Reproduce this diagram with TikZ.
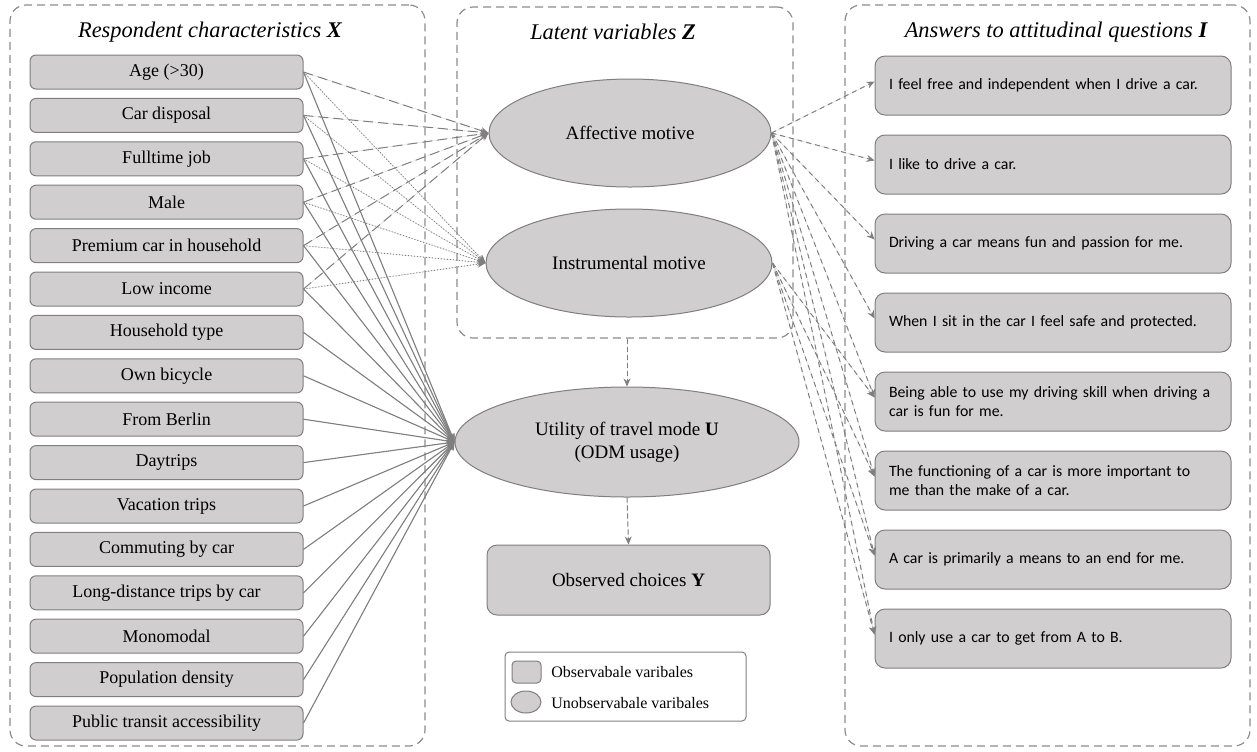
\documentclass[tikz,border=0pt]{standalone}
\usepackage{fontspec}
\setmainfont{Liberation Serif}
\newfontfamily\calib{Carlito}
\usetikzlibrary{shapes.geometric,arrows.meta}
\definecolor{boxfill}{HTML}{D0CECE}
\definecolor{edgegray}{HTML}{7F7F7F}
\definecolor{bordergray}{HTML}{8C8C8C}
\begin{document}
\begin{tikzpicture}[x=0.5pt,y=-0.5pt,
 panel/.style={draw=bordergray, line width=0.6pt, dash pattern=on 4pt off 2.5pt, rounded corners=8pt, inner sep=0pt},
 lbox/.style={draw=edgegray, fill=boxfill, rounded corners=3pt, minimum width=136.5pt, minimum height=17pt, inner sep=0pt, line width=0.5pt, font=\fontsize{9}{11}\selectfont},
 rbox/.style={draw=edgegray, fill=boxfill, rounded corners=5pt, text width=164pt, inner xsep=7pt, inner ysep=0pt, minimum height=29.5pt, align=left, line width=0.5pt, font=\calib\fontsize{7.9}{9.6}\selectfont},
 lat/.style={draw=edgegray, fill=boxfill, ellipse, inner sep=0pt, line width=0.5pt, align=center, font=\fontsize{9.5}{11.5}\selectfont},
 titletext/.style={font=\fontsize{11.2}{13}\selectfont\itshape},
 tip/.style={-{Stealth[length=4pt,width=3.5pt]}},
 affedge/.style={tip, draw=edgegray, fill=edgegray, line width=0.5pt, dash pattern=on 5pt off 2.5pt},
 insedge/.style={tip, draw=edgegray, fill=edgegray, line width=0.45pt, dash pattern=on 0.5pt off 1pt},
 utiledge/.style={tip, draw=edgegray, fill=edgegray, line width=0.55pt},
 ansedge/.style={tip, draw=edgegray, fill=edgegray, line width=0.5pt, dash pattern=on 2.5pt off 2pt},
 downedge/.style={tip, draw=edgegray, fill=edgegray, line width=0.5pt, dash pattern=on 2.5pt off 1.5pt}
]
\useasboundingbox (0,0) rectangle (1257,751);

% panels
\node[panel, minimum width=207.5pt, minimum height=370.5pt] (xp) at (217.5,375.5) {};
\node[panel, minimum width=168pt, minimum height=165.5pt] (zp) at (625,172.5) {};
\node[panel, minimum width=202.5pt, minimum height=370.5pt] (ip) at (1047.5,375.5) {};

\node[titletext] (xt) at (210,32) {Respondent characteristics \textbf{\textit{X}}};
\node[titletext] (zt) at (613,32) {Latent variables \textbf{\textit{Z}}};
\node[titletext] (it) at (1056,32) {Answers to attitudinal questions \textbf{\textit{I}}};

% left boxes
\foreach \t [count=\i] in {Age (>30),Car disposal,Fulltime job,Male,Premium car in household,Low income,Household type,Own bicycle,From Berlin,Daytrips,Vacation trips,Commuting by car,Long-distance trips by car,Monomodal,Population density,Public transit accessibility}
  \node[lbox] (l\i) at (166.5,{72+43.4*(\i-1)}) {\t};

% latent
\node[lat, minimum width=141pt, minimum height=54pt] (aff) at (630,133) {Affective motive};
\node[lat, minimum width=143pt, minimum height=54pt] (ins) at (629,263) {Instrumental motive};
\node[lat, minimum width=172pt, minimum height=55pt] (util) at (627,442) {Utility of travel mode \textbf{U}\\(ODM usage)};
\node[lbox, minimum width=141.5pt, minimum height=35pt, rounded corners=5pt, font=\fontsize{9.5}{11.5}\selectfont] (obs) at (628.5,580) {Observed choices \textbf{Y}};

% right boxes
\foreach \t [count=\i] in {{I feel free and independent when I drive a car.},{I like to drive a car.},{Driving a car means fun and passion for me.},{When I sit in the car I feel safe and protected.},{Being able to use my driving skill when driving a\\car is fun for me.},{The functioning of a car is more important to\\me than the make of a car.},{A car is primarily a means to an end for me.},{I only use a car to get from A to B.}}
  \node[rbox] (r\i) at (1053,{85.5+79*(\i-1)}) {\t};

% edges left
\foreach \i in {1,...,6} {
  \draw[affedge] (l\i.east) -- (aff.west);
  \draw[insedge] (l\i.east) -- (ins.west);
}
\foreach \i in {1,...,16}
  \draw[utiledge] (l\i.east) -- (util.west);

% edges right
\foreach \i in {1,...,8}
  \draw[ansedge] (aff.east) -- ([yshift=2pt]r\i.west);
\foreach \i in {5,...,8}
  \draw[ansedge] (ins.east) -- ([yshift=2pt]r\i.west);

% vertical
\draw[downedge] (zp.south -| util.north) -- (util.north);
\draw[downedge] (util.south) -- (obs.north);

% legend
\node[draw=edgegray, line width=0.5pt, rounded corners=2pt, minimum width=120.5pt, minimum height=34.5pt, inner sep=0pt] (leg) at (625.5,686.5) {};
\node[draw=edgegray, fill=boxfill, line width=0.5pt, rounded corners=2pt, minimum width=14.5pt, minimum height=11pt, inner sep=0pt] (legbox) at (526.5,672) {};
\node[draw=edgegray, fill=boxfill, line width=0.5pt, ellipse, minimum width=15pt, minimum height=11pt, inner sep=0pt] (legell) at (526,702) {};
\node[anchor=west, inner sep=0pt, font=\fontsize{8}{10}\selectfont] (legt1) at (551,672) {Observabale varibales};
\node[anchor=west, inner sep=0pt, font=\fontsize{8}{10}\selectfont] (legt2) at (551,703) {Unobservabale varibales};
\end{tikzpicture}
\end{document}
